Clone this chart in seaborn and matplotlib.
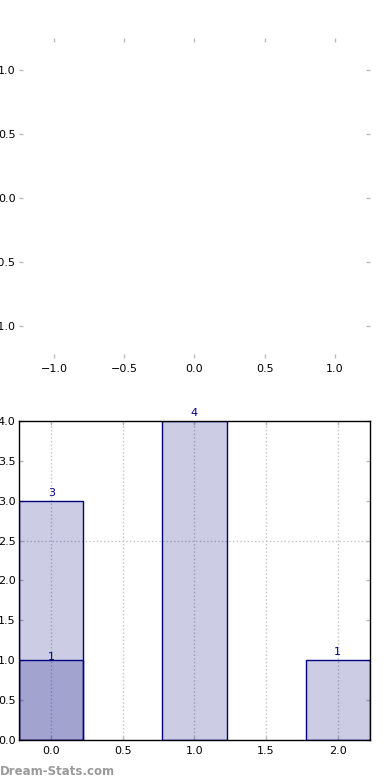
import matplotlib
matplotlib.use("Agg")
import matplotlib.pyplot as plt
import seaborn as sns
import pandas as pd

positions = [0.0, 1.0, 2.0]
counts = [3, 4, 1]
sub_positions = [0.0]
sub_counts = [1]
xticks_bottom = [0.0, 0.5, 1.0, 1.5, 2.0]
yticks_bottom = [0.0, 0.5, 1.0, 1.5, 2.0, 2.5, 3.0, 3.5, 4.0]
ticks_top = [-1.0, -0.5, 0.0, 0.5, 1.0]

sns.set_style("white")
plt.rcParams["font.family"] = ["DejaVu Sans"]

fig = plt.figure(figsize=(3.9, 7.8), dpi=100)
ax_top = fig.add_axes([0.0487, 0.541, 0.9, 0.4103])
ax = fig.add_axes([0.0487, 0.0513, 0.9, 0.4090])

# top: empty axes
ax_top.set_xlim(-1.25, 1.25)
ax_top.set_ylim(-1.25, 1.25)
ax_top.set_xticks(ticks_top)
ax_top.set_yticks(ticks_top)
for s in ax_top.spines.values():
    s.set_visible(False)
ax_top.tick_params(direction="in", length=3, width=1, color="#bbbbbb", labelsize=8,
                   labelcolor="black",
                   top=True, right=True, bottom=True, left=True, pad=4)
ax_top.tick_params(axis="y", pad=2.5)
ax_top.set_facecolor("white")

# bottom: bars
navy = "#000080"
df = pd.DataFrame({"x": positions, "y": counts})
df2 = pd.DataFrame({"x": sub_positions, "y": sub_counts})
sns.barplot(data=df, x="x", y="y", native_scale=True, width=0.45, ax=ax,
            color=navy, alpha=0.2, edgecolor=navy, linewidth=1, errorbar=None,
            saturation=1)
sns.barplot(data=df2, x="x", y="y", native_scale=True, width=0.45, ax=ax,
            color=navy, alpha=0.2, edgecolor=navy, linewidth=1, errorbar=None,
            saturation=1)
for p in ax.patches:
    p.set_edgecolor(navy)
    p.set_alpha(None)
    p.set_facecolor((0, 0, 0.5, 0.2))

for xv, yv in zip(positions, counts):
    ax.text(xv, yv + 0.04, str(yv), ha="center", va="bottom", color=navy, fontsize=8)
for xv, yv in zip(sub_positions, sub_counts):
    ax.text(xv, yv - 0.02, str(yv), ha="center", va="bottom", color=navy, fontsize=8)

ax.set_xlim(-0.225, 2.225)
ax.set_ylim(0, 4.0)
ax.set_xticks(xticks_bottom)
ax.set_yticks(yticks_bottom)
ax.set_xticklabels([f"{v:.1f}" for v in xticks_bottom])
ax.set_yticklabels([f"{v:.1f}" for v in yticks_bottom])
ax.set_xlabel("")
ax.set_ylabel("")
for xv in xticks_bottom:
    ax.axvline(xv, color="#c4c4c4", linestyle=":", linewidth=1, zorder=0.5)
ax.axhline(2.5, color="#c4c4c4", linestyle=":", linewidth=1, zorder=0.5)
for s in ax.spines.values():
    s.set_visible(True)
    s.set_color("black")
    s.set_linewidth(1)
ax.tick_params(direction="in", length=3, width=1, color="#bbbbbb", labelsize=8,
               labelcolor="black",
               top=True, right=True, bottom=True, left=True, pad=4)
ax.tick_params(axis="y", pad=2.5)

fig.text(0.0, 0.003, "Dream-Stats.com", color="#9a9a9a", fontsize=8.5,
         fontweight="semibold", ha="left", va="bottom")

fig.savefig("out.png", dpi=100)
